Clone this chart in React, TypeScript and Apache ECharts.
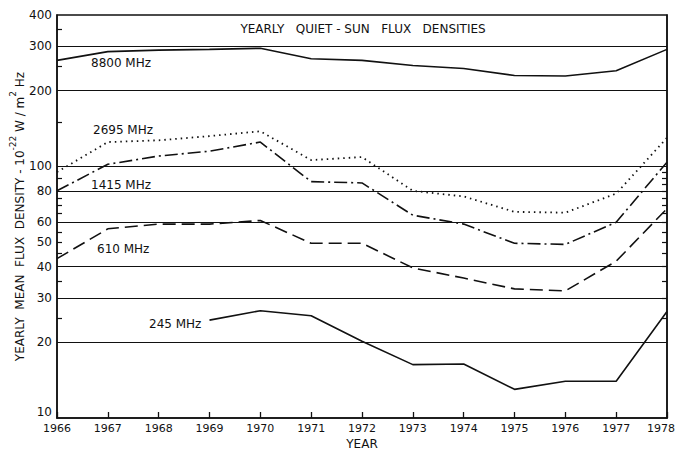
import React, { useEffect, useRef } from "react";
import * as echarts from "echarts";

// Yearly mean quiet-sun flux densities, 10^-22 W / m^2 Hz
const years = [1966, 1967, 1968, 1969, 1970, 1971, 1972, 1973, 1974, 1975, 1976, 1977, 1978];
const flux8800 = [264, 286, 290, 292, 295, 268, 264, 252, 245, 230, 229, 240, 292];
const flux2695 = [95, 125, 127, 132, 138, 106, 109, 80, 76, 66, 65.5, 78, 130];
const flux1415 = [80, 102, 110, 115, 125, 87, 86, 64, 59, 49.5, 49, 60, 104];
const flux610 = [43, 56.5, 59, 59, 61, 49.5, 49.5, 39.5, 36, 32.6, 32, 42, 68];
const flux245 = [null, null, null, 24.5, 26.7, 25.5, 20.2, 16.3, 16.4, 13, 14, 14, 26.5];

const seriesNames = ["8800 MHz", "2695 MHz", "1415 MHz", "610 MHz", "245 MHz"];

// Axis labelling and rulings
const yLabelValues = [10, 20, 30, 40, 50, 60, 80, 100, 200, 300, 400];
const gridValues = [20, 30, 40, 60, 80, 100, 200, 300];
const leftTickValues = [25, 35, 45, 50, 55, 65, 70, 75, 90, 150, 250, 350];
const rightTickValues = [25, 30, 35, 40, 45, 50, 55, 60, 65, 70, 75, 80, 85, 90, 95];

const FONT = "DejaVu Sans";
const INK = "#111";

const pairs = (vals: (number | null)[]) => years.map((y, i) => [y, vals[i]]);

export default function App() {
  const ref = useRef<HTMLDivElement>(null);

  useEffect(() => {
    if (!ref.current) return;
    const chart = echarts.init(ref.current, undefined, { renderer: "svg" });

    const lineStyles: any[] = [
      { type: "solid", width: 1.6 },
      { type: [1.5, 4], width: 1.8 },
      { type: [13, 4, 2, 4], width: 1.6 },
      { type: [13, 6], width: 1.6 },
      { type: "solid", width: 1.6 },
    ];
    const dataSets = [flux8800, flux2695, flux1415, flux610, flux245];

    const series: any[] = dataSets.map((vals, i) => ({
      name: seriesNames[i],
      type: "line",
      data: pairs(vals),
      showSymbol: false,
      symbol: "none",
      connectNulls: false,
      lineStyle: { color: INK, ...lineStyles[i] },
      z: 3,
    }));

    // horizontal rulings across the plot
    series.push({
      type: "line",
      data: [],
      markLine: {
        silent: true,
        symbol: "none",
        label: { show: false },
        lineStyle: { color: INK, type: "solid", width: 1.2 },
        data: gridValues.map((v) => ({ yAxis: v })),
      },
    });

    const labelPos: [number, number][] = [
      [91, 63],
      [93, 130],
      [91, 185],
      [97, 249],
      [149, 324],
    ];

    const lastYear = years[years.length - 1];

    chart.setOption({
      animation: false,
      backgroundColor: "#fff",
      textStyle: { fontFamily: FONT, color: INK },
      grid: {
        left: 57,
        right: 9,
        top: 15,
        bottom: 32,
        outerBoundsMode: "none",
        containLabel: false,
        show: true,
        borderColor: INK,
        borderWidth: 1.5,
        backgroundColor: "transparent",
      },
      xAxis: {
        type: "value",
        min: 1966,
        max: 1978,
        interval: 1,
        name: "YEAR",
        nameLocation: "middle",
        nameGap: 20,
        nameMoveOverlap: false,
        nameTextStyle: { fontFamily: FONT, fontSize: 12, color: INK },
        axisLine: { lineStyle: { color: INK, width: 1.5 } },
        axisTick: { inside: true, length: 6, lineStyle: { color: INK, width: 1.3 } },
        axisLabel: {
          margin: 5,
          fontFamily: FONT,
          fontSize: 11,
          color: INK,
          formatter: (v: number) => (v === lastYear ? `{e|${v}}` : String(v)),
          rich: {
            e: { fontFamily: FONT, fontSize: 11, color: INK, padding: [0, 12, 0, 0] },
          },
        },
        splitLine: { show: false },
      },
      yAxis: [
        {
          type: "log",
          logBase: 10,
          min: 10,
          max: 400,
          position: "left",
          name: "{n|YEARLY  MEAN  FLUX  DENSITY - 10}{s|-22}{n| W / m}{s|2}{n| Hz}",
          nameLocation: "middle",
          nameGap: 31,
          nameMoveOverlap: false,
          nameTextStyle: {
            fontFamily: FONT,
            fontSize: 12,
            color: INK,
            rich: {
              n: { fontFamily: FONT, fontSize: 12, color: INK, lineHeight: 18, verticalAlign: "bottom" },
              s: { fontFamily: FONT, fontSize: 9, color: INK, lineHeight: 18, verticalAlign: "top" },
            },
          },
          axisLine: { show: true, lineStyle: { color: INK, width: 1.5 } },
          axisTick: {
            show: true,
            inside: true,
            length: 5,
            customValues: leftTickValues,
            lineStyle: { color: INK, width: 1.2 },
          },
          axisLabel: {
            margin: 5,
            fontFamily: FONT,
            fontSize: 12,
            color: INK,
            customValues: yLabelValues,
            verticalAlignMinLabel: "bottom",
            formatter: (v: number) => String(Math.round(v)),
          },
          splitLine: { show: false },
          minorTick: { show: false },
        },
        {
          type: "log",
          logBase: 10,
          min: 10,
          max: 400,
          position: "right",
          axisLine: { show: true, lineStyle: { color: INK, width: 1.5 } },
          axisTick: {
            show: true,
            inside: true,
            length: 5,
            customValues: rightTickValues,
            lineStyle: { color: INK, width: 1.2 },
          },
          axisLabel: { show: false },
          splitLine: { show: false },
        },
      ],
      graphic: [
        {
          type: "text",
          x: 363,
          y: 29,
          style: {
            text: "YEARLY   QUIET - SUN   FLUX   DENSITIES",
            fontFamily: FONT,
            fontSize: 12,
            fill: INK,
            align: "center",
            verticalAlign: "middle",
          },
        },
        ...seriesNames.map((name, i) => ({
          type: "text",
          x: labelPos[i][0],
          y: labelPos[i][1],
          style: {
            text: name,
            fontFamily: FONT,
            fontSize: 12,
            fill: INK,
            align: "left",
            verticalAlign: "middle",
          },
        })),
      ],
      series,
    });

    return () => chart.dispose();
  }, []);

  return (
    <div
      ref={ref}
      style={{ position: "fixed", left: 0, top: 0, width: 676, height: 450 }}
    />
  );
}
